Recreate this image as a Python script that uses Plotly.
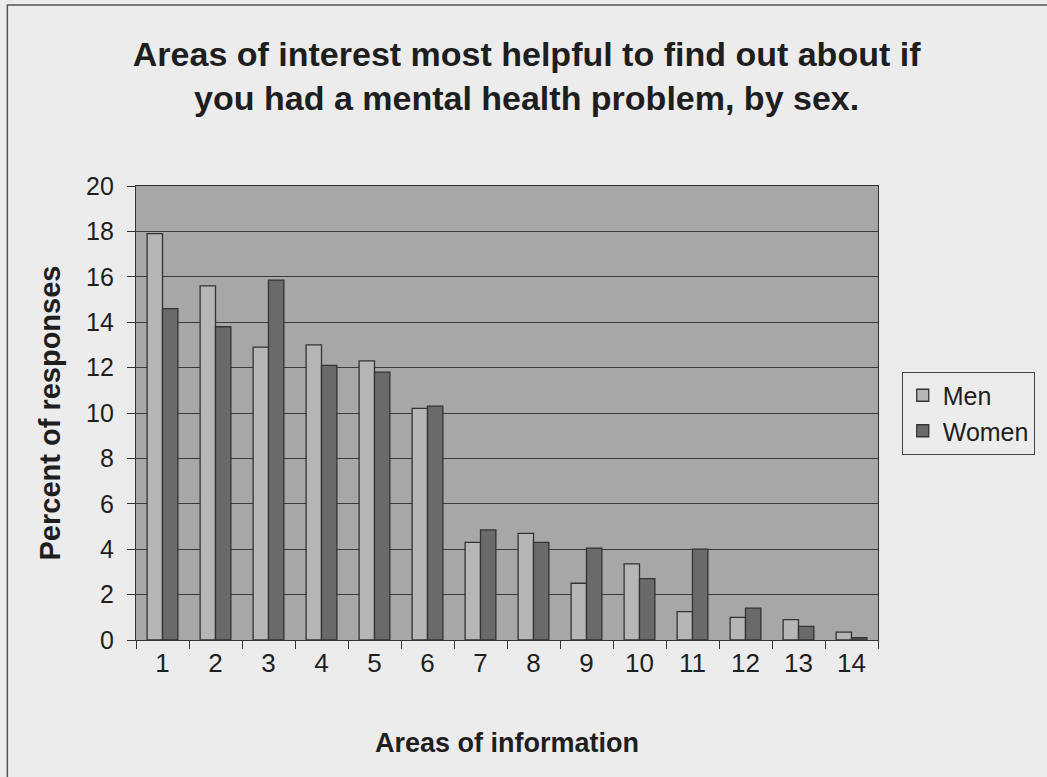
import plotly.graph_objects as go

# Survey results: share of responses per area of information, by sex
areas = [str(i) for i in range(1, 15)]
men = [17.9, 15.6, 12.9, 13.0, 12.3, 10.2, 4.3, 4.7, 2.5, 3.35, 1.25, 1.0, 0.9, 0.35]
women = [14.6, 13.8, 15.85, 12.1, 11.8, 10.3, 4.85, 4.3, 4.05, 2.7, 4.0, 1.4, 0.6, 0.1]
y_ticks = list(range(0, 21, 2))

FONT = "Liberation Sans, Arial, sans-serif"
INK = "#1e1e1e"
fig = go.Figure()
fig.add_trace(go.Bar(name="Men", x=areas, y=men,
                     marker=dict(color="#b6b6b6", line=dict(color="#333333", width=1.3))))
fig.add_trace(go.Bar(name="Women", x=areas, y=women,
                     marker=dict(color="#6a6a6a", line=dict(color="#333333", width=1.3))))

fig.update_layout(
    width=1047, height=777,
    margin=dict(l=136, r=167, t=186, b=137),
    paper_bgcolor="#ececec",
    plot_bgcolor="#a7a7a7",
    barmode="group", bargap=0.42, bargroupgap=0,
    font=dict(family=FONT, size=25, color=INK),
    title=dict(
        text="<b>Areas of interest most helpful to find out about if<br>you had a mental health problem, by sex.</b>",
        x=0.503, xref="container", xanchor="center",
        y=0.915, yref="container", yanchor="middle",
        font=dict(family=FONT, size=34, color=INK),
    ),
    legend=dict(
        x=1.032, xanchor="left", y=0.5, yanchor="middle",
        bgcolor="#ececec", bordercolor="#444444", borderwidth=1,
        font=dict(size=25, family=FONT, color=INK), tracegroupgap=0,
        itemwidth=30,
    ),
    shapes=[dict(type="rect", xref="paper", yref="paper",
                 x0=-0.1734, x1=1.23, y0=-0.304, y1=1.3987,
                 line=dict(color="#555555", width=1.5), fillcolor="rgba(0,0,0,0)", layer="below")],
)
fig.update_xaxes(
    title=dict(text="<b>Areas of information</b>", font=dict(size=27, family=FONT, color=INK), standoff=55),
    showline=True, linecolor="#333333", linewidth=1.2, mirror=True,
    ticks="outside", tickson="boundaries", ticklen=8, tickcolor="#333333",
    tickfont=dict(size=26), showgrid=False,
)
fig.update_yaxes(
    title=dict(text="<b>Percent of responses</b>", font=dict(size=29, family=FONT, color=INK), standoff=16),
    range=[0, 20], tickvals=y_ticks, ticks="outside", ticklen=8, tickcolor="#333333",
    ticklabelstandoff=8,
    showline=True, linecolor="#333333", linewidth=1.2, mirror=True,
    showgrid=True, gridcolor="#3a3a3a", gridwidth=1, zeroline=False,
    tickfont=dict(size=25),
)

fig.write_html("out.html")
